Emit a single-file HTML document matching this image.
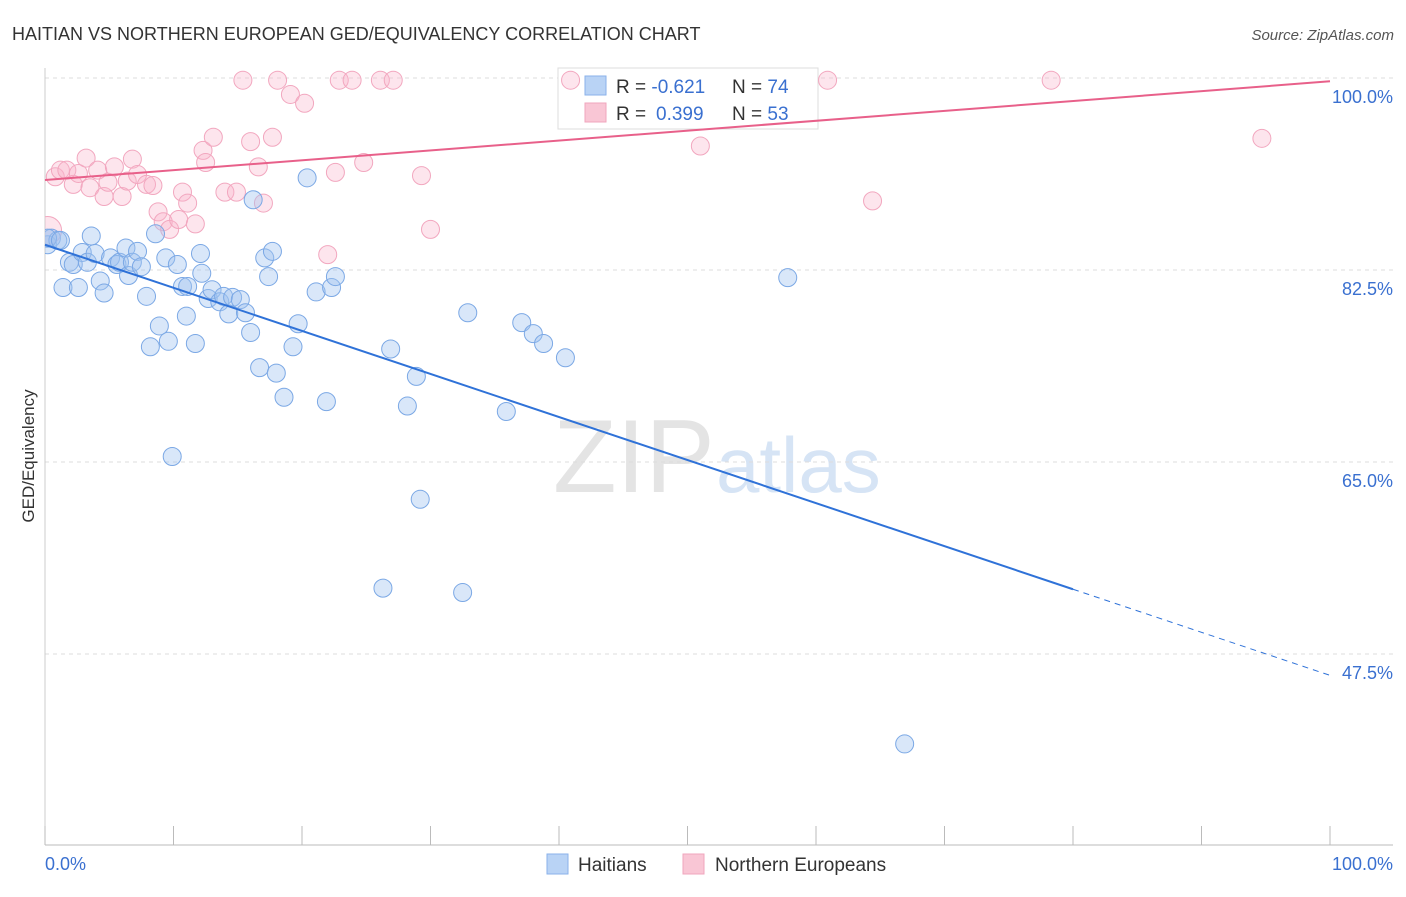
<!DOCTYPE html>
<html><head><meta charset="utf-8"><style>
body{margin:0;background:#fff;font-family:"Liberation Sans",sans-serif;}
svg text{font-family:"Liberation Sans",sans-serif;}
</style></head><body>
<svg id="chart" width="1406" height="892" xmlns="http://www.w3.org/2000/svg">
<defs><clipPath id="plotclip"><rect x="45" y="60" width="1360" height="785"/></clipPath></defs>
<text x="12" y="40" font-size="18" fill="#333">HAITIAN VS NORTHERN EUROPEAN GED/EQUIVALENCY CORRELATION CHART</text>
<text x="1394" y="40" font-size="15" fill="#555" font-style="italic" text-anchor="end">Source: ZipAtlas.com</text>
<text x="553" y="492" font-size="104" fill="#e4e4e4" font-family="Liberation Serif,serif">ZIP</text>
<text x="716" y="492" font-size="78" fill="#d6e4f5">atlas</text>
<g id="grid"></g><g id="axes"></g>
<g>
<rect x="558" y="68" width="260" height="61" fill="#fff" stroke="#ddd"/>
<rect x="585" y="76" width="21" height="19" fill="#b9d3f5" stroke="#8ab2ea"/>
<text x="616" y="93" font-size="19" fill="#333">R = <tspan fill="#3a70d0">-0.621</tspan><tspan x="732">N = </tspan><tspan fill="#3a70d0">74</tspan></text>
<rect x="585" y="103" width="21" height="19" fill="#f9c6d5" stroke="#f0a6bd"/>
<text x="616" y="120" font-size="19" fill="#333">R = <tspan x="656" fill="#3a70d0">0.399</tspan><tspan x="732">N = </tspan><tspan fill="#3a70d0">53</tspan></text>
</g>
<g id="pts" clip-path="url(#plotclip)"></g><g id="lines"></g>
<text transform="translate(34,456) rotate(-90)" font-size="17" fill="#333" text-anchor="middle">GED/Equivalency</text>
<text x="45" y="870" font-size="18" fill="#3a70d0">0.0%</text>
<text x="1393" y="870" font-size="18" fill="#3a70d0" text-anchor="end">100.0%</text>
<g>
<rect x="547" y="854" width="21" height="20" fill="#b9d3f5" stroke="#8ab2ea"/>
<text x="578" y="871" font-size="19" fill="#333">Haitians</text>
<rect x="683" y="854" width="21" height="20" fill="#f9c6d5" stroke="#f0a6bd"/>
<text x="715" y="871" font-size="19" fill="#333">Northern Europeans</text>
</g>
</svg>
<script>
const blueX=[0.2,0.5,1.0,1.4,1.9,2.2,2.6,2.9,3.3,3.6,3.9,4.3,4.6,5.1,5.6,5.8,6.3,6.5,6.8,7.2,7.5,7.9,8.2,8.6,8.9,9.4,9.6,10.3,10.7,11.0,11.1,11.7,12.1,12.2,12.7,13.0,13.6,13.9,14.3,14.6,15.2,15.6,16.0,16.2,16.7,17.1,17.4,17.7,18.0,18.6,19.3,19.7,20.4,21.1,21.9,22.3,22.6,26.9,28.2,28.9,29.2,26.3,32.5,32.9,35.9,37.1,38.0,38.8,40.5,9.9,57.8,66.9,0.2,1.2];
const blueY=[84.8,85.4,85.2,80.9,83.2,83.0,80.9,84.1,83.2,85.6,84.0,81.5,80.4,83.6,83.0,83.2,84.5,82.0,83.2,84.2,82.8,80.1,75.5,85.8,77.4,83.6,76.0,83.0,81.0,78.3,81.0,75.8,84.0,82.2,79.9,80.7,79.6,80.1,78.5,80.0,79.8,78.6,76.8,88.9,73.6,83.6,81.9,84.2,73.1,70.9,75.5,77.6,90.9,80.5,70.5,80.9,81.9,75.3,70.1,72.8,61.6,53.5,53.1,78.6,69.6,77.7,76.7,75.8,74.5,65.5,81.8,39.3,85.4,85.2];
const pinkX=[0.2,0.8,1.2,1.7,2.2,2.6,3.2,3.5,4.1,4.6,4.9,5.4,6.0,6.4,6.8,7.2,7.9,8.4,8.8,9.2,9.7,10.4,10.7,11.1,11.7,12.3,12.5,13.1,14.0,14.9,15.4,16.0,16.6,17.0,17.7,18.1,19.1,20.2,22.0,22.6,22.9,23.9,24.8,26.1,27.1,29.3,30.0,40.9,51.0,60.9,64.4,78.3,94.7];
const pinkY=[86.1,91.0,91.6,91.6,90.3,91.3,92.7,90.0,91.6,89.2,90.5,91.9,89.2,90.6,92.6,91.2,90.3,90.2,87.8,86.9,86.2,87.1,89.6,88.6,86.7,93.4,92.3,94.6,89.6,89.6,99.8,94.2,91.9,88.6,94.6,99.8,98.5,97.7,83.9,91.4,99.8,99.8,92.3,99.8,99.8,91.1,86.2,99.8,93.8,99.8,88.8,99.8,94.5];
const yTicks=[100,82.5,65,47.5];
const yTickLabels=["100.0%","82.5%","65.0%","47.5%"];
const blueTrend=[84.8,-0.3925];
const pinkTrend=[90.7,0.09];
const sx=v=>45+v*12.85, sy=v=>78+(100-v)/0.09115;
const NS="http://www.w3.org/2000/svg";
function mk(p,t,a){const e=document.createElementNS(NS,t);for(const k in a)e.setAttribute(k,a[k]);p.appendChild(e);return e;}
const G=document.getElementById('grid'),A=document.getElementById('axes'),P=document.getElementById('pts'),L=document.getElementById('lines');
yTicks.forEach((t,i)=>{const l=mk(G,'line',{x1:45,x2:1393,y1:sy(t),y2:sy(t),stroke:'#ddd','stroke-dasharray':'4,4'});


const tx=mk(G,'text',{x:1393,y:sy(t)+25,'font-size':18,fill:'#3a70d0','text-anchor':'end'});tx.textContent=yTickLabels[i];

});
mk(A,'line',{x1:45,x2:45,y1:68,y2:845,stroke:'#ccc'});
const xa=mk(A,'line',{x1:45,x2:1393,y1:845,y2:845,stroke:'#bbb'});


for(let i=0;i<=10;i++){const t=mk(A,'line',{x1:sx(i*10),x2:sx(i*10),y1:826,y2:845,stroke:'#bbb'});

}
pinkX.forEach((x,i)=>{const c=mk(P,'circle',{cx:sx(x),cy:sy(pinkY[i]),r:i==0?14:9,fill:'rgba(248,180,203,0.35)',stroke:'#f2a7bf','stroke-width':1});

});
blueX.forEach((x,i)=>{const c=mk(P,'circle',{cx:sx(x),cy:sy(blueY[i]),r:9,fill:'rgba(160,196,240,0.4)',stroke:'#7ba8e5','stroke-width':1});

});
const bf=x=>blueTrend[0]+blueTrend[1]*x, pf=x=>pinkTrend[0]+pinkTrend[1]*x;
const b1=mk(L,'line',{x1:sx(0),y1:sy(bf(0)),x2:sx(80),y2:sy(bf(80)),stroke:'#2f72d8','stroke-width':2});


const b2=mk(L,'line',{x1:sx(80),y1:sy(bf(80)),x2:sx(100),y2:sy(bf(100)),stroke:'#2f72d8','stroke-width':1,'stroke-dasharray':'6,5'});


const p1=mk(L,'line',{x1:sx(0),y1:sy(pf(0)),x2:sx(100),y2:sy(pf(100)),stroke:'#e8608a','stroke-width':2});


</script>
</body></html>
